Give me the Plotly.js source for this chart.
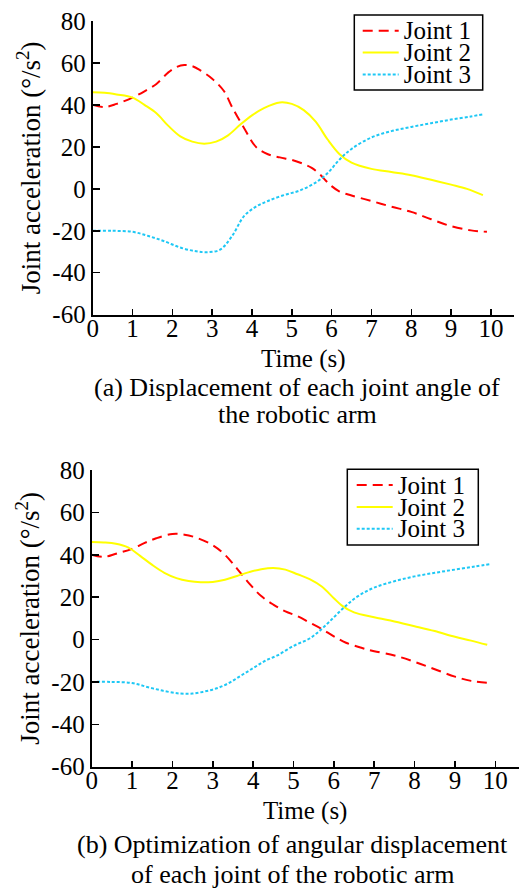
<!DOCTYPE html>
<html>
<head>
<meta charset="utf-8">
<script src="https://cdn.plot.ly/plotly-3.0.1.min.js"></script>
<style>html,body{margin:0;padding:0;background:#fff;}#chart{width:520px;height:891px;}</style>
</head>
<body>
<div id="chart"></div>
<script>
// ---------- data ----------
const seriesNames = ['Joint 1', 'Joint 2', 'Joint 3'];

// (a) Displacement of each joint angle
const tA1 = [0,0.3,0.6,1.0,1.3,1.6,1.9,2.1,2.3,2.5,2.7,3.0,3.3,3.5,3.8,4.1,4.4,4.7,5.0,5.3,5.5,5.7,5.85,6.0,6.2,6.5,7.0,7.5,8.0,8.5,9.0,9.5,9.9];
const vA1 = [40,39,40.5,43.5,46.5,50,55.5,58,59,58.5,56.5,52.5,46.5,39,29,20,16.5,15,13.8,11.8,10,7,4,1.3,-1.3,-3.2,-5.8,-8.5,-11,-14.5,-17.8,-19.8,-20.5];
const tA2 = [0,0.3,0.6,1.0,1.3,1.6,1.9,2.2,2.5,2.8,3.1,3.4,3.7,4.0,4.3,4.7,5.0,5.3,5.6,5.9,6.2,6.5,7.0,7.5,8.0,8.5,9.0,9.4,9.8];
const vA2 = [46,45.8,45,43.5,40,36,30,25,22.5,21.5,22.5,25.5,30.5,35,38.5,41.2,40.5,37.5,32,23.5,16.5,12.5,9.5,8,6.5,4.3,2,0,-3];
const tA3 = [0,0.5,1.0,1.4,1.8,2.2,2.6,2.9,3.2,3.5,3.8,4.1,4.4,4.8,5.2,5.6,5.9,6.2,6.5,7.0,7.5,8.0,8.5,9.0,9.5,9.8];
const vA3 = [-20,-20,-20.5,-22.5,-25,-28,-29.8,-30.2,-29,-22.5,-13,-8.5,-5.8,-3,-0.8,3,7.5,14,19,24.5,27.5,29.5,31.3,33,34.5,35.5];

// (b) Optimization of angular displacement
const tB1 = [0,0.3,0.6,1.0,1.3,1.6,2.0,2.3,2.6,3.0,3.3,3.6,3.9,4.2,4.5,4.8,5.1,5.4,5.7,6.0,6.3,6.7,7.0,7.5,8.0,8.5,9.0,9.4,9.9];
const vB1 = [40,39,40.5,42.8,45.5,47.8,49.8,49.5,48,44.5,40,33.5,26.5,20.5,16.5,13.3,11,8,5,1.5,-1.5,-4,-5.5,-7.5,-10.5,-14,-17.5,-19.5,-20.5];
const tB2 = [0,0.3,0.6,0.9,1.2,1.5,1.8,2.1,2.4,2.7,3.0,3.3,3.6,3.9,4.2,4.5,4.8,5.1,5.4,5.7,6.0,6.2,6.5,7.0,7.5,8.0,8.5,9.0,9.4,9.8];
const vB2 = [46,45.8,45.2,43.5,39.5,35.2,31.5,29,27.6,27,27.2,28.2,30,31.8,33.2,33.8,33,30.8,28.5,25,19.5,16,12.8,10.5,8.5,6.3,4,1.3,-0.5,-2.5];
const tB3 = [0,0.5,1.0,1.4,1.8,2.2,2.5,2.8,3.1,3.4,3.7,4.0,4.3,4.6,5.0,5.4,5.7,6.0,6.3,6.6,7.0,7.5,8.0,8.5,9.0,9.5,9.9];
const vB3 = [-20,-20,-20.5,-22.5,-24.3,-25.5,-25.5,-24.5,-23,-20.5,-17,-13.5,-10,-7.5,-3,0.5,5,10.5,16,20.5,24.5,27.5,29.8,31.5,33,34.5,35.7];

// ticks
const xTickVals = [0,1,2,3,4,5,6,7,8,9,10,10.57];
const xTickText = ['0','1','2','3','4','5','6','7','8','9','10',''];
const yTickVals = [-60,-40,-20,0,20,40,60,80];
const yTickText = ['-60','-40','-20','0','20','40','60','80'];

const xLabel = 'Time (s)';
const yLabel = 'Joint acceleration (°/s<sup>2</sup>)';
const captionA = ['(a) Displacement of each joint angle of', 'the robotic arm'];
const captionB = ['(b) Optimization of angular displacement', 'of each joint of the robotic arm'];

// ---------- styling / layout ----------
const W = 520, H = 891;
const px = x => x / W;
const py = y => 1 - y / H;
const FONT = 'Liberation Serif, Times New Roman, serif';

const styles = [
  {color: '#FF0000', width: 2, dash: '10px,6px'},
  {color: '#FFFF00', width: 2, dash: 'solid'},
  {color: '#1EC8F5', width: 2, dash: '3px,2px'}
];

function mk(x, y, i, xa, ya, leg) {
  return {
    x: x, y: y, type: 'scatter', mode: 'lines',
    name: '<span style="font-size:25px;baseline-shift:-2.5px">' + seriesNames[i] + '</span>',
    xaxis: xa, yaxis: ya, legend: leg,
    line: Object.assign({shape: 'spline', smoothing: 1}, styles[i]),
    hoverinfo: 'skip'
  };
}

const data = [
  mk(tA1, vA1, 0, 'x', 'y', 'legend'),
  mk(tA2, vA2, 1, 'x', 'y', 'legend'),
  mk(tA3, vA3, 2, 'x', 'y', 'legend'),
  mk(tB1, vB1, 0, 'x2', 'y2', 'legend2'),
  mk(tB2, vB2, 1, 'x2', 'y2', 'legend2'),
  mk(tB3, vB3, 2, 'x2', 'y2', 'legend2')
];

function xAxis(domain, anchor, standoff) {
  return {
    domain: domain, anchor: anchor, range: [0, 10.58],
    tickmode: 'array', tickvals: xTickVals, ticktext: xTickText,
    ticks: 'inside', ticklen: 6, tickwidth: 1.5, tickcolor: '#000',
    ticklabelstandoff: -10,
    showline: true, linewidth: 2, linecolor: '#000',
    showgrid: false, zeroline: false,
    tickfont: {family: FONT, size: 25, color: '#000'},
    title: {text: xLabel, standoff: standoff, font: {family: FONT, size: 25, color: '#000'}}
  };
}
function yAxis(domain, anchor) {
  return {
    domain: domain, anchor: anchor, range: [-60, 80],
    tickmode: 'array', tickvals: yTickVals, ticktext: yTickText,
    ticks: 'inside', ticklen: 7, tickwidth: 1.5, tickcolor: '#000',
    showline: true, linewidth: 2, linecolor: '#000',
    showgrid: false, zeroline: false,
    tickfont: {family: FONT, size: 25, color: '#000'},
    title: {text: yLabel, standoff: 4, font: {family: FONT, size: 27, color: '#000'}}
  };
}

function leg(xp, ytop) {
  return {
    x: px(xp), y: py(ytop), xanchor: 'left', yanchor: 'top',
    bgcolor: 'rgba(0,0,0,0)', borderwidth: 0, itemwidth: 36,
    traceorder: 'normal',
    font: {family: FONT, size: 14.5, color: '#000'}
  };
}

function cap(text, xc, yc) {
  return {
    text: text, xref: 'paper', yref: 'paper', x: px(xc), y: py(yc),
    xanchor: 'center', yanchor: 'middle', showarrow: false,
    font: {family: FONT, size: 26, color: '#000'}
  };
}

const layout = {
  width: W, height: H,
  margin: {l: 0, r: 0, t: 0, b: 0, autoexpand: false},
  paper_bgcolor: '#fff', plot_bgcolor: '#fff',
  font: {family: FONT, size: 25, color: '#000'},
  showlegend: true,
  xaxis: xAxis([px(92.7), px(514)], 'y', 9),
  yaxis: yAxis([py(314.7), py(21)], 'x'),
  xaxis2: xAxis([px(91.7), px(518.7)], 'y2', 9),
  yaxis2: yAxis([py(766.7), py(470)], 'x2'),
  legend: leg(357.7, 14.8),
  legend2: leg(351.7, 469.1),
  shapes: [
    {type: 'rect', xref: 'paper', yref: 'paper', x0: px(354.3), x1: px(482.7), y0: py(90), y1: py(15),
     line: {color: '#000', width: 1.5}, fillcolor: 'rgba(0,0,0,0)', layer: 'above'},
    {type: 'rect', xref: 'paper', yref: 'paper', x0: px(347.3), x1: px(478.3), y0: py(545), y1: py(469.3),
     line: {color: '#000', width: 1.5}, fillcolor: 'rgba(0,0,0,0)', layer: 'above'}
  ],
  annotations: [
    cap(captionA[0], 297, 387),
    cap(captionA[1], 297, 414),
    cap(captionB[0], 292, 844),
    cap(captionB[1], 292, 874)
  ]
};

// target positions (px) of the first legend sample line and row pitch, used to place the legends
const legendTargets = {
  legend:  {x: 362.7, y: 30.7, pitch: 21.7},
  legend2: {x: 356.7, y: 485.0, pitch: 21.7}
};

function sampleRects(gd, id) {
  const g = gd.querySelector('g.' + id);
  if (!g) return [];
  const out = [];
  g.querySelectorAll('g.traces').forEach(tr => {
    const p = tr.querySelector('path.js-line');
    if (p) out.push(p.getBoundingClientRect());
  });
  return out;
}

Plotly.newPlot('chart', data, layout, {staticPlot: true, displayModeBar: false}).then(async gd => {
  const root = gd.getBoundingClientRect();
  const upd1 = {};
  for (const id in legendTargets) {
    const r = sampleRects(gd, id);
    if (r.length > 1) {
      const pitch = ((r[r.length - 1].top - r[0].top) / (r.length - 1));
      const fs = gd._fullLayout[id].font.size;
      if (Math.abs(pitch - legendTargets[id].pitch) > 0.5 && pitch > 3.5) {
        upd1[id + '.font.size'] = Math.max(1, fs * (legendTargets[id].pitch - 3) / (pitch - 3));
      }
    }
  }
  if (Object.keys(upd1).length) await Plotly.relayout(gd, upd1);
  const upd2 = {};
  for (const id in legendTargets) {
    const r = sampleRects(gd, id);
    if (!r.length) continue;
    const cy = (r[0].top + r[0].bottom) / 2 - root.top;
    const cx = r[0].left - root.left;
    const t = legendTargets[id];
    if (Math.abs(t.y - cy) > 0.5 || Math.abs(t.x - cx) > 0.5) {
      upd2[id + '.y'] = gd._fullLayout[id].y - (t.y - cy) / H;
      upd2[id + '.x'] = gd._fullLayout[id].x + (t.x - cx) / W;
    }
  }
  if (Object.keys(upd2).length) await Plotly.relayout(gd, upd2);
});
</script>
</body>
</html>
